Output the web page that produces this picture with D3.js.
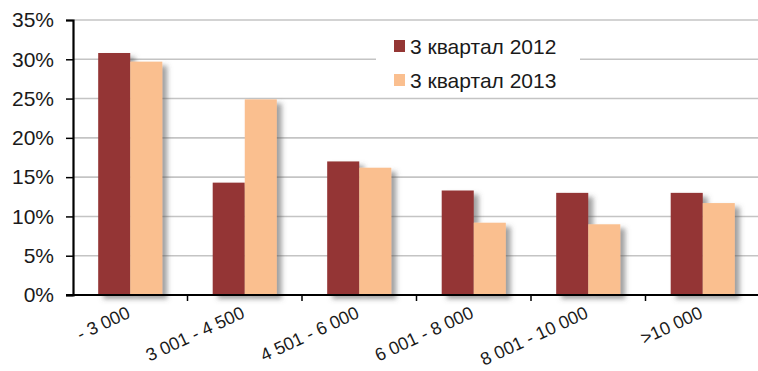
<!DOCTYPE html>
<html>
<head>
<meta charset="utf-8">
<script src="https://cdn.jsdelivr.net/npm/d3@7"></script>
<style>
  html, body { margin: 0; padding: 0; background: #fff; }
  svg { display: block; font-family: "Liberation Sans", Arial, sans-serif; }
</style>
</head>
<body>
<svg id="chart" width="758" height="371"></svg>
<script>
// Income bands (руб.) and share of each band per quarter
const categories = ["- 3 000", "3 001 - 4 500", "4 501 - 6 000", "6 001 - 8 000", "8 001 - 10 000", ">10 000"];
const seriesNames = ["3 квартал 2012", "3 квартал 2013"];
const values2012 = [0.308, 0.143, 0.170, 0.133, 0.130, 0.130];
const values2013 = [0.297, 0.249, 0.162, 0.092, 0.090, 0.117];
const seriesColors = ["#943634", "#FABF8F"];
const yTicks = [0, 0.05, 0.10, 0.15, 0.20, 0.25, 0.30, 0.35];

const seriesValues = [values2012, values2013];
const svg = d3.select("#chart");

const plotLeft = 73, plotRight = 760, plotTop = 20, plotBottom = 295;

const x0 = d3.scaleBand().domain(categories).range([plotLeft, plotRight]).padding(0);
const x1 = d3.scaleBand().domain(seriesNames).range([0, x0.bandwidth()])
  .paddingInner(0).paddingOuter(0.786);
const y = d3.scaleLinear().domain([0, 0.35]).range([plotBottom, plotTop]);

// soft drop shadow behind the bars
const defs = svg.append("defs");
const f = defs.append("filter").attr("id", "shadow")
  .attr("x", "-20%").attr("y", "-10%").attr("width", "160%").attr("height", "130%");
f.append("feDropShadow").attr("dx", 5).attr("dy", 4)
  .attr("stdDeviation", 2.5).attr("flood-color", "#555").attr("flood-opacity", 0.55);

// horizontal gridlines
svg.append("g").selectAll("line").data(yTicks.filter(d => d > 0)).join("line")
  .attr("x1", plotLeft).attr("x2", 758)
  .attr("y1", d => y(d)).attr("y2", d => y(d))
  .attr("stroke", "#c4c4c4").attr("stroke-width", 1.6);

// bars
const gBars = svg.append("g").attr("filter", "url(#shadow)");
categories.forEach((c, i) => {
  seriesNames.forEach((s, j) => {
    const v = seriesValues[j][i];
    gBars.append("rect")
      .attr("x", x0(c) + x1(s))
      .attr("y", y(v))
      .attr("width", x1.bandwidth())
      .attr("height", y(0) - y(v))
      .attr("fill", seriesColors[j]);
  });
});

// y axis
const yAxis = svg.append("g").attr("transform", `translate(${plotLeft},0)`)
  .call(d3.axisLeft(y).tickValues(yTicks).tickFormat(d3.format(".0%")).tickSize(7).tickPadding(12));
yAxis.select(".domain").attr("stroke", "#000").attr("stroke-width", 2.2);
yAxis.selectAll(".tick line").attr("stroke", "#000").attr("stroke-width", 1.5);
yAxis.selectAll(".tick text").attr("font-size", 21).attr("fill", "#1a1a1a")
  .attr("font-family", "'Liberation Sans', Arial, sans-serif");

// x axis line and category boundary ticks
const xAxis = svg.append("g");
xAxis.append("line").attr("x1", plotLeft - 7).attr("x2", 758)
  .attr("y1", plotBottom).attr("y2", plotBottom)
  .attr("stroke", "#000").attr("stroke-width", 2.2);
xAxis.selectAll("line.tk").data(categories.slice(1)).join("line").attr("class", "tk")
  .attr("x1", d => x0(d)).attr("x2", d => x0(d))
  .attr("y1", plotBottom).attr("y2", plotBottom + 6)
  .attr("stroke", "#000").attr("stroke-width", 1.5);

// rotated category labels
xAxis.selectAll("text").data(categories).join("text")
  .attr("transform", d => `translate(${x0(d) + x0.bandwidth() / 2 + 1},${plotBottom + 22}) rotate(-25)`)
  .attr("text-anchor", "end")
  .attr("font-size", 18)
  .attr("fill", "#1a1a1a")
  .text(d => d);

// legend
const lg = svg.append("g");
lg.append("rect").attr("x", 376).attr("y", 27).attr("width", 204).attr("height", 66).attr("fill", "#fff");
seriesNames.forEach((s, j) => {
  const cy = 46 + j * 34;
  lg.append("rect").attr("x", 394).attr("y", cy - 6).attr("width", 11).attr("height", 12)
    .attr("fill", seriesColors[j]);
  lg.append("text").attr("x", 410).attr("y", cy + 8)
    .attr("font-size", 21).attr("fill", "#1a1a1a").text(s);
});
</script>
</body>
</html>
